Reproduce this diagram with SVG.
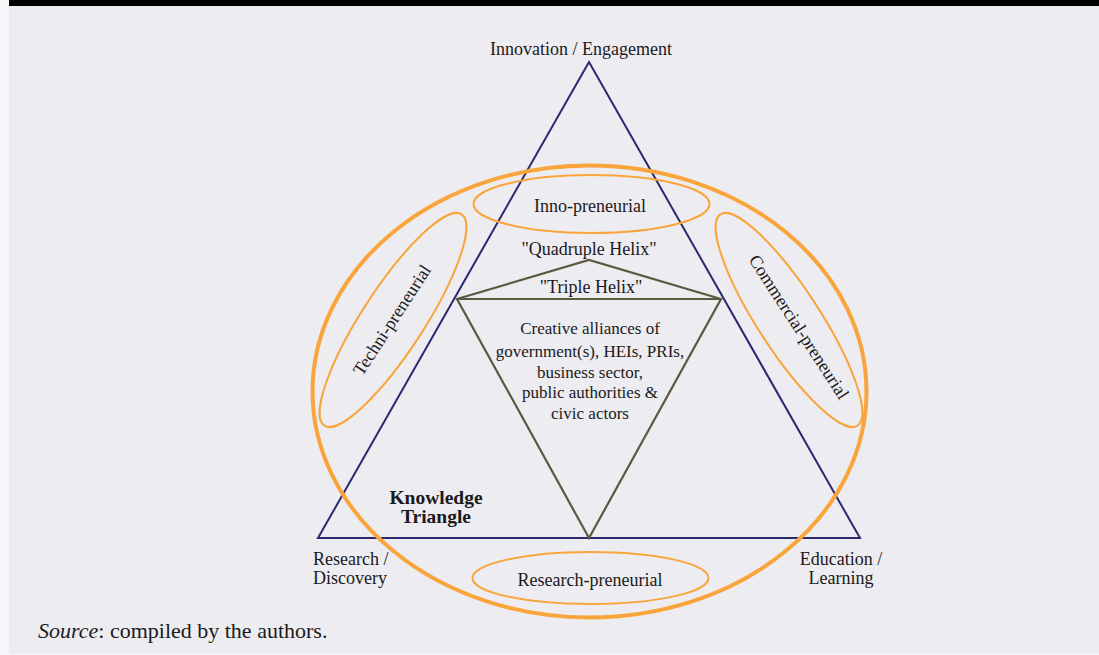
<svg xmlns="http://www.w3.org/2000/svg" width="1099" height="655" viewBox="0 0 1099 655">
  <style>
    .t { font-family: "Liberation Serif", "Times New Roman", serif; font-size: 18px; fill: #1a1a1a; text-anchor: middle; }
    .c { font-size: 17px; }
    .tl { text-anchor: start; }
    .b { font-weight: bold; font-size: 19.5px; }
    .src { font-size: 22px; }
    .ring { fill: none; stroke: #F9A53C; }
    .kt { fill: none; stroke: #2B2A6F; stroke-width: 2; stroke-linejoin: miter; }
    .helix { fill: none; stroke: #5A5A40; stroke-width: 2.2; stroke-linejoin: miter; }
  </style>

  <!-- page background and header band -->
  <rect x="0" y="0" width="1099" height="655" fill="#F6F6F8"/>
  <rect x="9" y="0" width="1090" height="654" fill="#EDECF1"/>
  <rect x="9" y="0" width="1090" height="6" fill="#000"/>

  <g id="connectors">
    <!-- Knowledge triangle -->
    <polygon class="kt" points="589,62 318,538 860,538"/>
    <!-- Quadruple helix roof -->
    <polyline class="helix" points="457,299 589,260 721,299"/>
    <!-- Triple helix inverted triangle -->
    <polygon class="helix" points="457,299 721,299 589,538"/>
  </g>

  <g id="outer-ring">
    <ellipse class="ring" cx="589.5" cy="391.5" rx="277" ry="226" stroke-width="4"/>
  </g>

  <g id="inno-preneurial">
    <ellipse class="ring" cx="591.5" cy="204" rx="118" ry="29" stroke-width="2"/>
    <text class="t" x="590" y="212">Inno-preneurial</text>
  </g>

  <g id="techni-preneurial">
    <ellipse class="ring" cx="393" cy="320" rx="126" ry="31" stroke-width="2" transform="rotate(-57 393 320)"/>
    <text class="t" x="392" y="326" transform="rotate(-57 392 320)">Techni-preneurial</text>
  </g>

  <g id="commercial-preneurial">
    <ellipse class="ring" cx="789" cy="320" rx="126" ry="31" stroke-width="2" transform="rotate(57 789 320)"/>
    <text class="t" x="799" y="333" transform="rotate(57 799 327)">Commercial-preneurial</text>
  </g>

  <g id="research-preneurial">
    <ellipse class="ring" cx="590.5" cy="578" rx="118" ry="26" stroke-width="2"/>
    <text class="t" x="590" y="586">Research-preneurial</text>
  </g>

  <g id="innovation-vertex">
    <text class="t" x="581" y="55">Innovation / Engagement</text>
  </g>

  <g id="research-vertex">
    <text class="t tl" x="313" y="565">Research /</text>
    <text class="t tl" x="313" y="584">Discovery</text>
  </g>

  <g id="education-vertex">
    <text class="t" x="841" y="565">Education /</text>
    <text class="t" x="841" y="584">Learning</text>
  </g>

  <g id="quadruple-helix">
    <text class="t" x="589" y="255">"Quadruple Helix"</text>
  </g>

  <g id="triple-helix">
    <text class="t" x="591" y="293">"Triple Helix"</text>
    <text class="t c" x="590" y="334">Creative alliances of</text>
    <text class="t c" x="590" y="357">government(s), HEIs, PRIs,</text>
    <text class="t c" x="590" y="378">business sector,</text>
    <text class="t c" x="590" y="398">public authorities &amp;</text>
    <text class="t c" x="590" y="419">civic actors</text>
  </g>

  <g id="knowledge-triangle">
    <text class="t b" x="436" y="504">Knowledge</text>
    <text class="t b" x="436" y="523">Triangle</text>
  </g>

  <g id="source">
    <text class="t tl src" x="38" y="638"><tspan font-style="italic">Source</tspan>: compiled by the authors.</text>
  </g>
</svg>
